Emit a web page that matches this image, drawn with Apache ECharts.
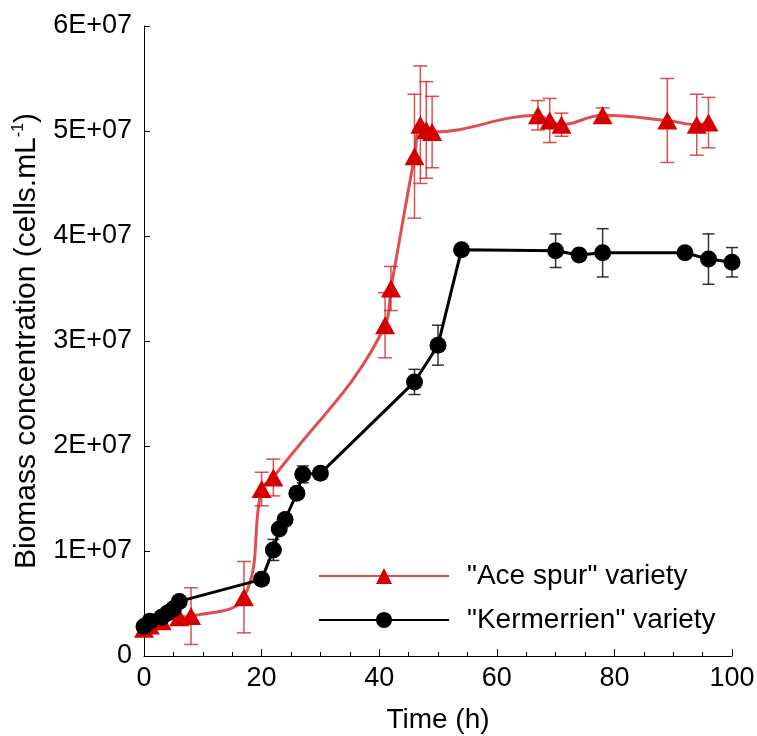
<!DOCTYPE html>
<html>
<head>
<meta charset="utf-8">
<script src="https://cdn.jsdelivr.net/npm/echarts@6/dist/echarts.min.js"></script>
<style>
html,body{margin:0;padding:0;background:#fff;}
#chart{width:757px;height:736px;}
</style>
</head>
<body>
<div id="chart"></div>
<script>
// ---- Data ----
const xTicks = [0, 20, 40, 60, 80, 100];
const yTickLabels = ['0', '1E+07', '2E+07', '3E+07', '4E+07', '5E+07', '6E+07'];

const aceName = '"Ace spur" variety';
const aceTime  = [0, 1, 3, 6, 8, 17, 20, 22, 41, 42, 46, 47, 48, 49, 67, 69, 71, 78, 89, 94, 96];
const aceValue = [2.6e6, 2.9e6, 3.3e6, 3.7e6, 3.8e6, 5.6e6, 15.9e6, 17.0e6, 31.5e6, 35.0e6, 47.6e6, 50.6e6, 50.1e6, 49.9e6, 51.5e6, 51.0e6, 50.6e6, 51.5e6, 51.0e6, 50.6e6, 50.8e6];
const aceError = [0, 0, 0, 0, 2.7e6, 3.4e6, 1.6e6, 1.75e6, 3.1e6, 2.1e6, 5.9e6, 5.6e6, 4.6e6, 3.4e6, 1.4e6, 2.1e6, 1.1e6, 0.7e6, 4.0e6, 2.9e6, 2.4e6];

const kerName = '"Kermerrien" variety';
const kerTime  = [0, 1, 3, 4, 5, 6, 20, 22, 23, 24, 26, 27, 30, 46, 50, 54, 70, 74, 78, 92, 96, 100];
const kerValue = [2.8e6, 3.3e6, 3.7e6, 4.1e6, 4.5e6, 5.2e6, 7.3e6, 10.1e6, 12.1e6, 13.0e6, 15.5e6, 17.3e6, 17.4e6, 26.1e6, 29.6e6, 38.7e6, 38.6e6, 38.2e6, 38.4e6, 38.4e6, 37.8e6, 37.5e6];
const kerError = [0, 0, 0, 0, 0, 0, 0.3e6, 1.0e6, 0.3e6, 0.3e6, 0.3e6, 0.8e6, 0, 1.2e6, 1.9e6, 0.4e6, 1.6e6, 0.5e6, 2.3e6, 0.2e6, 2.4e6, 1.4e6];

// ---- Build ----
const FONT = '"Liberation Sans", Arial, sans-serif';
const RED = '#d40000';
const RED_SOFT = 'rgba(214,20,20,0.75)';

function pairs(t, v) { return t.map((x, i) => [x, v[i]]); }
function errData(t, v, e) {
  const out = [];
  t.forEach((x, i) => { if (e[i] > 0) out.push([x, v[i] - e[i], v[i] + e[i]]); });
  return out;
}
function errRenderer(color, cap) {
  return function (params, api) {
    const x = api.value(0);
    const pLo = api.coord([x, api.value(1)]);
    const pHi = api.coord([x, api.value(2)]);
    const st = { stroke: color, lineWidth: 1.5 };
    return {
      type: 'group',
      children: [
        { type: 'line', shape: { x1: pLo[0], y1: pLo[1], x2: pHi[0], y2: pHi[1] }, style: st },
        { type: 'line', shape: { x1: pLo[0] - cap, y1: pLo[1], x2: pLo[0] + cap, y2: pLo[1] }, style: st },
        { type: 'line', shape: { x1: pHi[0] - cap, y1: pHi[1], x2: pHi[0] + cap, y2: pHi[1] }, style: st }
      ]
    };
  };
}

const chart = echarts.init(document.getElementById('chart'), null, { renderer: 'canvas' });
chart.setOption({
  backgroundColor: '#fff',
  animation: false,
  textStyle: { fontFamily: FONT, color: '#000' },
  grid: { left: 144, right: 25, top: 26, bottom: 80, containLabel: false, outerBoundsMode: 'none' },
  legend: {
    data: [aceName, kerName],
    orient: 'vertical',
    left: 313,
    top: 557,
    itemWidth: 130,
    itemHeight: 20,
    itemGap: 16,
    textStyle: { fontFamily: FONT, fontSize: 28, color: '#000', padding: [0, 0, 0, 13] }
  },
  xAxis: {
    type: 'value',
    min: 0, max: 100, interval: 20,
    name: 'Time (h)',
    nameLocation: 'middle',
    nameGap: 50,
    nameTextStyle: { fontFamily: FONT, fontSize: 28, color: '#000' },
    axisLine: { show: true, onZero: false, lineStyle: { color: '#000', width: 1 } },
    axisTick: { show: true, inside: true, length: 7, lineStyle: { color: '#000' } },
    minorTick: { show: true, splitNumber: 4, length: 4, lineStyle: { color: '#000' } },
    splitLine: { show: false },
    axisLabel: { fontFamily: FONT, fontSize: 27, color: '#000', margin: 9,
      formatter: v => (xTicks.indexOf(v) >= 0 ? String(v) : '') }
  },
  yAxis: {
    type: 'value',
    min: 0, max: 6e7, interval: 1e7,
    name: '{a|Biomass concentration (cells.mL}{s|-1}{a|)}',
    nameLocation: 'middle',
    nameGap: 101,
    nameRotate: 90,
    nameTextStyle: {
      fontFamily: FONT, color: '#000',
      rich: {
        a: { fontFamily: FONT, fontSize: 30, color: '#000', lineHeight: 32 },
        s: { fontFamily: FONT, fontSize: 16, color: '#000', lineHeight: 32, verticalAlign: 'top', padding: [0, 0, 12, 0] }
      }
    },
    axisLine: { show: true, onZero: false, lineStyle: { color: '#000', width: 1 } },
    axisTick: { show: true, inside: true, length: 6, lineStyle: { color: '#000' } },
    splitLine: { show: false },
    axisLabel: { fontFamily: FONT, fontSize: 27, color: '#000', margin: 12,
      formatter: v => yTickLabels[Math.round(v / 1e7)] }
  },
  series: [
    {
      name: 'aceErrorBars', type: 'custom', renderItem: errRenderer(RED_SOFT, 7),
      data: errData(aceTime, aceValue, aceError), z: 2, silent: true
    },
    {
      name: aceName, type: 'line', data: pairs(aceTime, aceValue),
      smooth: 0.4,
      symbol: 'triangle', symbolSize: [20, 18],
      itemStyle: { color: RED },
      lineStyle: { color: RED_SOFT, width: 3 },
      z: 3
    },
    {
      name: 'kerErrorBars', type: 'custom', renderItem: errRenderer('rgba(0,0,0,0.8)', 6),
      data: errData(kerTime, kerValue, kerError), z: 4, silent: true
    },
    {
      name: kerName, type: 'line', data: pairs(kerTime, kerValue),
      smooth: false,
      symbol: 'circle', symbolSize: 17,
      itemStyle: { color: '#000' },
      lineStyle: { color: '#000', width: 3 },
      z: 5
    }
  ]
});
</script>
</body>
</html>
